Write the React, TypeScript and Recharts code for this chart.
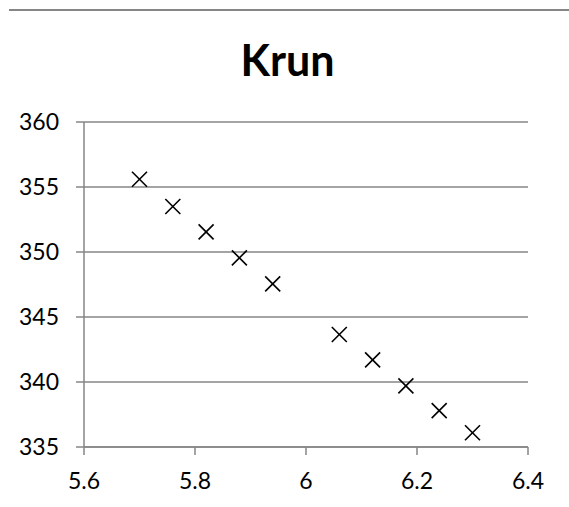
import React from 'react';
import { ScatterChart, Scatter, XAxis, YAxis, CartesianGrid } from 'recharts';

// Krun measurements
const xValues = [5.7, 5.76, 5.82, 5.88, 5.94, 6.06, 6.12, 6.18, 6.24, 6.3];
const krunValues = [355.6, 353.5, 351.55, 349.55, 347.55, 343.65, 341.7, 339.7, 337.8, 336.1];

const xTicks = [5.6, 5.8, 6, 6.2, 6.4];
const yTicks = [335, 340, 345, 350, 355, 360];

const GRAY = '#868686';
const FONT = 'Lato, "Open Sans", sans-serif';

const data = xValues.map((x, i) => ({ x, y: krunValues[i] }));

const CrossMarker = (props: any) => {
  const { cx, cy } = props;
  const r = 7.5;
  return (
    <g stroke="#000" strokeWidth={1.6}>
      <line x1={cx - r} y1={cy - r} x2={cx + r} y2={cy + r} />
      <line x1={cx - r} y1={cy + r} x2={cx + r} y2={cy - r} />
    </g>
  );
};

const App: React.FC = () => {
  return (
    <div style={{ position: 'absolute', left: 0, top: 0, width: 569, height: 507, background: '#fff', fontFamily: FONT }}>
      <div style={{ position: 'absolute', left: 9, right: 0, top: 9, borderTop: `2px solid ${GRAY}` }} />
      <div
        style={{
          position: 'absolute',
          left: 0,
          width: 575,
          top: 35,
          textAlign: 'center',
          fontSize: 43,
          fontWeight: 700,
          color: '#000',
          lineHeight: '50px',
        }}
      >
        Krun
      </div>
      <ScatterChart width={569} height={507} margin={{ top: 122, right: 41, bottom: 20, left: 0 }}>
        <CartesianGrid horizontal vertical={false} stroke={GRAY} strokeWidth={1.5} />
        <XAxis
          type="number"
          dataKey="x"
          domain={[5.6, 6.4]}
          ticks={xTicks}
          height={40}
          tickSize={8}
          tickMargin={18}
          stroke={GRAY}
          strokeWidth={1.5}
          tick={{ fill: '#000', fontSize: 23, fontFamily: FONT }}
          interval={0}
        />
        <YAxis
          type="number"
          dataKey="y"
          domain={[335, 360]}
          ticks={yTicks}
          width={84}
          tickSize={8}
          tickMargin={17}
          stroke={GRAY}
          strokeWidth={1.5}
          tick={{ fill: '#000', fontSize: 23, fontFamily: FONT }}
          interval={0}
        />
        <Scatter data={data} shape={CrossMarker} isAnimationActive={false} />
      </ScatterChart>
    </div>
  );
};

export default App;
